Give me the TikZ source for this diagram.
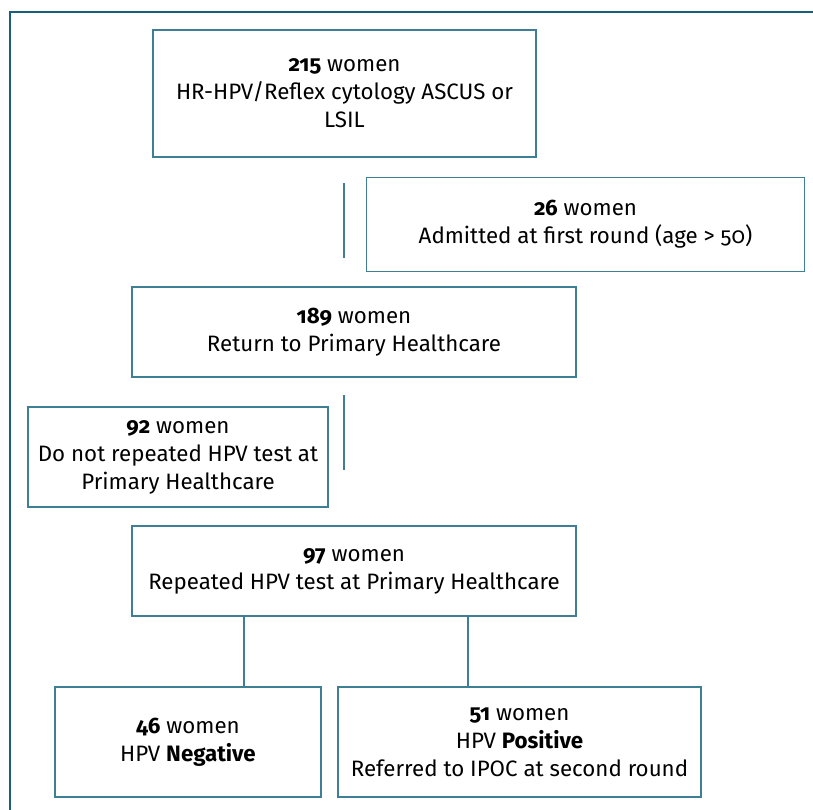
\documentclass[tikz,border=0pt]{standalone}
\usepackage{fontspec}
\setmainfont{Fira Sans}[Numbers=OldStyle]
\definecolor{framecol}{HTML}{1A5F7A}
\definecolor{boxcol}{HTML}{3F7F96}
\begin{document}
\begin{tikzpicture}[x=1pt,y=-1pt,
  box/.style={draw=boxcol,line width=1.4pt,rectangle,inner sep=0pt,align=center,
    font=\fontsize{22.3}{28}\selectfont},
  conn/.style={draw=boxcol,line width=1.4pt}]
\useasboundingbox (0,0) rectangle (813,810);
\begin{scope}
\clip (0,0) rectangle (813,810);
\draw[framecol,line width=2.6pt] (820,12) -- (10,12) -- (10,820);
\end{scope}
\node[box,minimum width=383pt,minimum height=127pt] (b215) at (344.5,93.5)
  {\textbf{215} women\\HR-HPV/Reflex cytology ASCUS or\\LSIL};
\node[box,minimum width=438pt,minimum height=94pt] (b26) at (585.5,224.5)
  {\textbf{26} women\\Admitted at first round (age > 50)};
\node[box,minimum width=444pt,minimum height=90pt] (b189) at (354,332)
  {\textbf{189} women\\Return to Primary Healthcare};
\node[box,minimum width=300pt,minimum height=100pt] (b92) at (178,457)
  {\textbf{92} women\\Do not repeated HPV test at\\Primary Healthcare};
\node[box,minimum width=444pt,minimum height=90pt] (b97) at (354,571)
  {\textbf{97} women\\Repeated HPV test at Primary Healthcare};
\node[box,minimum width=266pt,minimum height=110pt] (b46) at (188,742)
  {\textbf{46} women\\HPV \textbf{Negative}};
\node[box,minimum width=363pt,minimum height=110pt] (b51) at (519.5,742)
  {\textbf{51} women\\HPV \textbf{Positive}\\Referred to IPOC at second round};
\coordinate (v1a) at (344,183);
\coordinate (v1b) at (344,258);
\coordinate (v2a) at (344,395);
\coordinate (v2b) at (344,470);
\draw[conn] (v1a) -- (v1b);
\draw[conn] (v2a) -- (v2b);
\draw[conn] (b97.south -| 244,0) -- (b46.north -| 244,0);
\draw[conn] (b97.south -| 468,0) -- (b51.north -| 468,0);
\end{tikzpicture}
\end{document}
